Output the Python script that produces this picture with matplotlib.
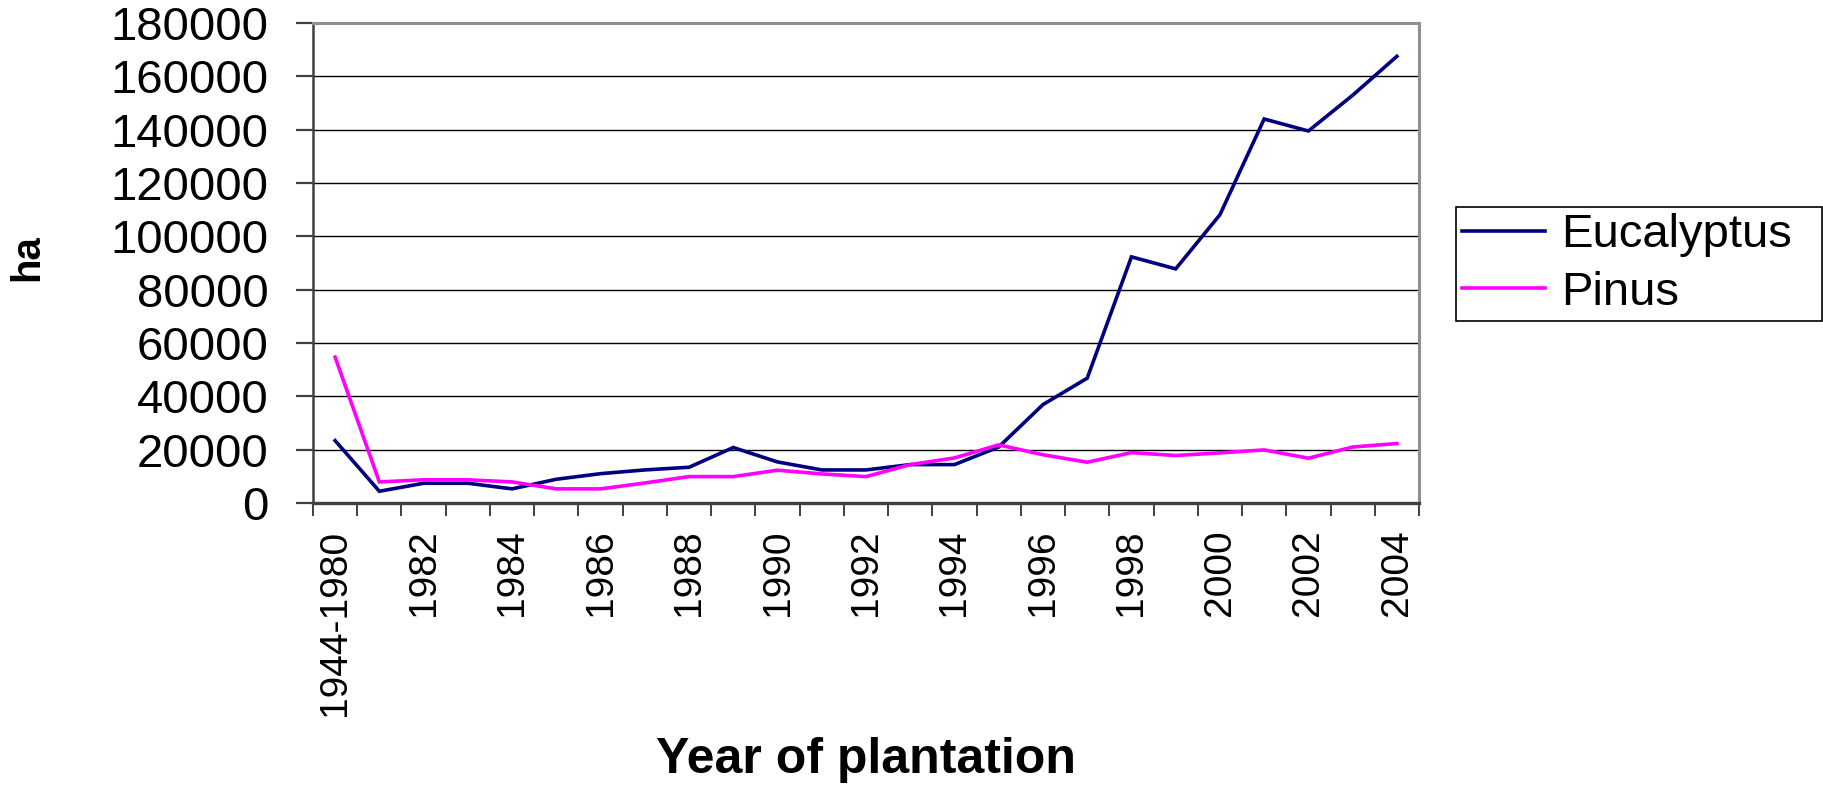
import matplotlib
matplotlib.use("Agg")
import matplotlib.pyplot as plt
from matplotlib.ticker import FixedLocator, MultipleLocator, NullFormatter
import numpy as np

plt.rcParams['font.family'] = ['Liberation Sans', 'DejaVu Sans']

# Planted area per year (hectares)
years = ['1944-1980'] + [str(y) for y in range(1981, 2005)]
eucalyptus = [23400, 4400, 7400, 7400, 5300, 8900, 11000, 12400, 13400, 20800,
              15400, 12400, 12400, 14400, 14400, 21000, 36900, 46800, 92300,
              87800, 108100, 144000, 139500, 152900, 167500]
pinus = [54700, 7900, 8700, 8700, 7900, 5300, 5300, 7500, 9900, 9900,
         12300, 10900, 9900, 14400, 16900, 21800, 18100, 15300, 18900,
         17800, 18800, 19900, 16800, 21000, 22300]
series_names = ['Eucalyptus', 'Pinus']
series_colors = ['#000080', '#FF00FF']

W, H = 1824, 786
fig = plt.figure(figsize=(W / 100, H / 100), dpi=100)
ax = fig.add_axes([313 / W, 1 - 503 / H, (1419 - 313) / W, (503 - 23) / H])

x = np.arange(len(years)) + 0.5
for vals, name, col in zip([eucalyptus, pinus], series_names, series_colors):
    ax.plot(x, vals, color=col, lw=2.6, label=name, solid_joinstyle='miter')

ax.set_xlim(0, len(years))
ax.set_ylim(0, 180000)

# horizontal gridlines
ax.yaxis.set_major_locator(MultipleLocator(20000))
ax.grid(axis='y', color='black', lw=1.0)
ax.set_axisbelow(True)

# y ticks
ax.tick_params(axis='y', direction='out', length=12, width=1.6, color='#404040',
               pad=20, labelsize=34)

# category boundaries as minor ticks, labels on every other category
ax.xaxis.set_minor_locator(FixedLocator(np.arange(len(years) + 1)))
ax.xaxis.set_minor_formatter(NullFormatter())
shown = list(range(0, len(years), 2))
ax.set_xticks(x[shown])
ax.set_xticklabels([years[i] for i in shown], rotation=90, ha='center', va='top')
ax.tick_params(axis='x', which='major', length=0, pad=19, labelsize=28)
ax.tick_params(axis='x', which='minor', direction='out', length=9, width=1.4,
               color='#404040')

for side in ['top', 'right']:
    ax.spines[side].set_color('#909090')
    ax.spines[side].set_linewidth(2.2)
ax.spines['left'].set_color('#404040')
ax.spines['left'].set_linewidth(1.8)
ax.spines['bottom'].set_color('#404040')
ax.spines['bottom'].set_linewidth(2.4)

# axis titles
fig.text(27 / W, 1 - 258 / H, 'ha', rotation=90, ha='center', va='center',
         fontsize=29, fontweight='bold')
fig.text(866 / W, 1 - 773 / H, 'Year of plantation', ha='center', va='baseline',
         fontsize=36, fontweight='bold')

# legend box to the right of the plot
leg = ax.legend(loc='center', bbox_to_anchor=(1456 / W, 1 - 264 / H, (1822 - 1456) / W, 0),
                bbox_transform=fig.transFigure, mode='expand', fontsize=34,
                frameon=True, fancybox=False, edgecolor='black', framealpha=1,
                handlelength=1.75, handletextpad=0.35, labelspacing=0.28,
                borderpad=0.13, borderaxespad=0)
leg.get_frame().set_linewidth(1.2)
for line in leg.get_lines():
    line.set_linewidth(2.6)

fig.savefig('out.png', dpi=100)
